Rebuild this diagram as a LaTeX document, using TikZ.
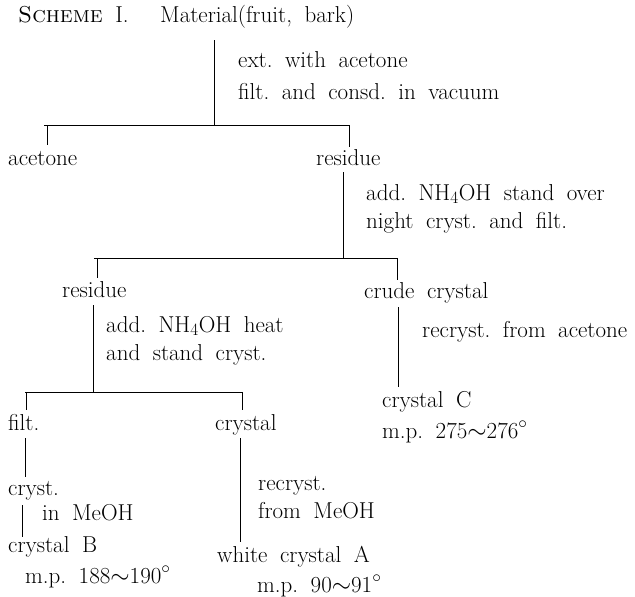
\documentclass[tikz,border=0pt]{standalone}
\usepackage{fontspec}
\newcommand\mylblfont{\fontsize{23}{26}\selectfont\spaceskip=12.5pt plus 2pt minus 2pt\relax\xspaceskip=\spaceskip\relax}
\begin{document}
\begin{tikzpicture}[x=1pt,y=-1pt,
  lbl/.style={anchor=west, inner sep=0pt, text height=16pt, text depth=6pt, font=\mylblfont},
  ln/.style={line width=1pt}]
\useasboundingbox[fill=white] (0,0) rectangle (635,597);
% texts
\node[lbl] (scheme) at (18,17) {\textsc{Scheme} I.};
\node[lbl] (mat) at (160,17) {Material(fruit, bark)};
\node[lbl] (ext1) at (238,62) {ext.\ with acetone};
\node[lbl] (ext2) at (238,94) {filt.\ and consd.\ in vacuum};
\node[lbl] (acetone) at (8,160) {acetone};
\node[lbl] (res1) at (316,160) {residue};
\node[lbl] (add1) at (366,195) {add.\ NH$_4$OH stand over};
\node[lbl] (add2) at (366,223) {night cryst.\ and filt.};
\node[lbl] (res2) at (62,292) {residue};
\node[lbl] (crude) at (364,293) {crude crystal};
\node[lbl] (heat1) at (106,327) {add.\ NH$_4$OH heat};
\node[lbl] (heat2) at (106,355) {and stand cryst.};
\node[lbl] (recac) at (422,332) {recryst.\ from acetone};
\node[lbl] (crysC) at (382,402) {crystal C};
\node[lbl] (mpC) at (382,433) {m.p.\ 275$\sim$276$^\circ$};
\node[lbl] (filt) at (8,425) {filt.};
\node[lbl] (crystal) at (215,425) {crystal};
\node[lbl] (cryst) at (8,490) {cryst.};
\node[lbl] (inmeoh) at (42,515) {in MeOH};
\node[lbl] (crysB) at (8,547) {crystal B};
\node[lbl] (mpB) at (25,578) {m.p.\ 188$\sim$190$^\circ$};
\node[lbl] (recr) at (258,485) {recryst.};
\node[lbl] (frommeoh) at (258,513) {from MeOH};
\node[lbl] (crysA) at (217,557) {white crystal A};
\node[lbl] (mpA) at (257,587) {m.p.\ 90$\sim$91$^\circ$};
% junction coordinates
\coordinate (v1a) at (214,40);   \coordinate (v1b) at (214,125);
\coordinate (h1l) at (44,125);   \coordinate (h1r) at (349,125);
\coordinate (t1a) at (47,125);   \coordinate (t1b) at (47,145);
\coordinate (t2b) at (349,147);
\coordinate (v2a) at (343,172);  \coordinate (v2b) at (343,258);
\coordinate (h2l) at (94,258);   \coordinate (h2r) at (397,258);
\coordinate (t3a) at (97,258);   \coordinate (t3b) at (97,278);
\coordinate (t4b) at (397,280);
\coordinate (v3a) at (93,305);   \coordinate (v3b) at (93,392);
\coordinate (h3l) at (25,392);   \coordinate (h3r) at (242,392);
\coordinate (t5a) at (26,392);   \coordinate (t5b) at (26,410);
\coordinate (t6b) at (242,410);
\coordinate (v4a) at (398,307);  \coordinate (v4b) at (398,387);
\coordinate (v5a) at (25,438);   \coordinate (v5b) at (25,477);
\coordinate (v6a) at (22,505);   \coordinate (v6b) at (22,537);
\coordinate (v7a) at (240,438);  \coordinate (v7b) at (240,542);
% connectors
\draw[ln] (v1a) -- (v1b);
\draw[ln] (h1l) -- (h1r) -- (t2b);
\draw[ln] (t1a) -- (t1b);
\draw[ln] (v2a) -- (v2b);
\draw[ln] (h2l) -- (h2r) -- (t4b);
\draw[ln] (t3a) -- (t3b);
\draw[ln] (v3a) -- (v3b);
\draw[ln] (h3l) -- (h3r) -- (t6b);
\draw[ln] (t5a) -- (t5b);
\draw[ln] (v4a) -- (v4b);
\draw[ln] (v5a) -- (v5b);
\draw[ln] (v6a) -- (v6b);
\draw[ln] (v7a) -- (v7b);
\end{tikzpicture}
\end{document}
